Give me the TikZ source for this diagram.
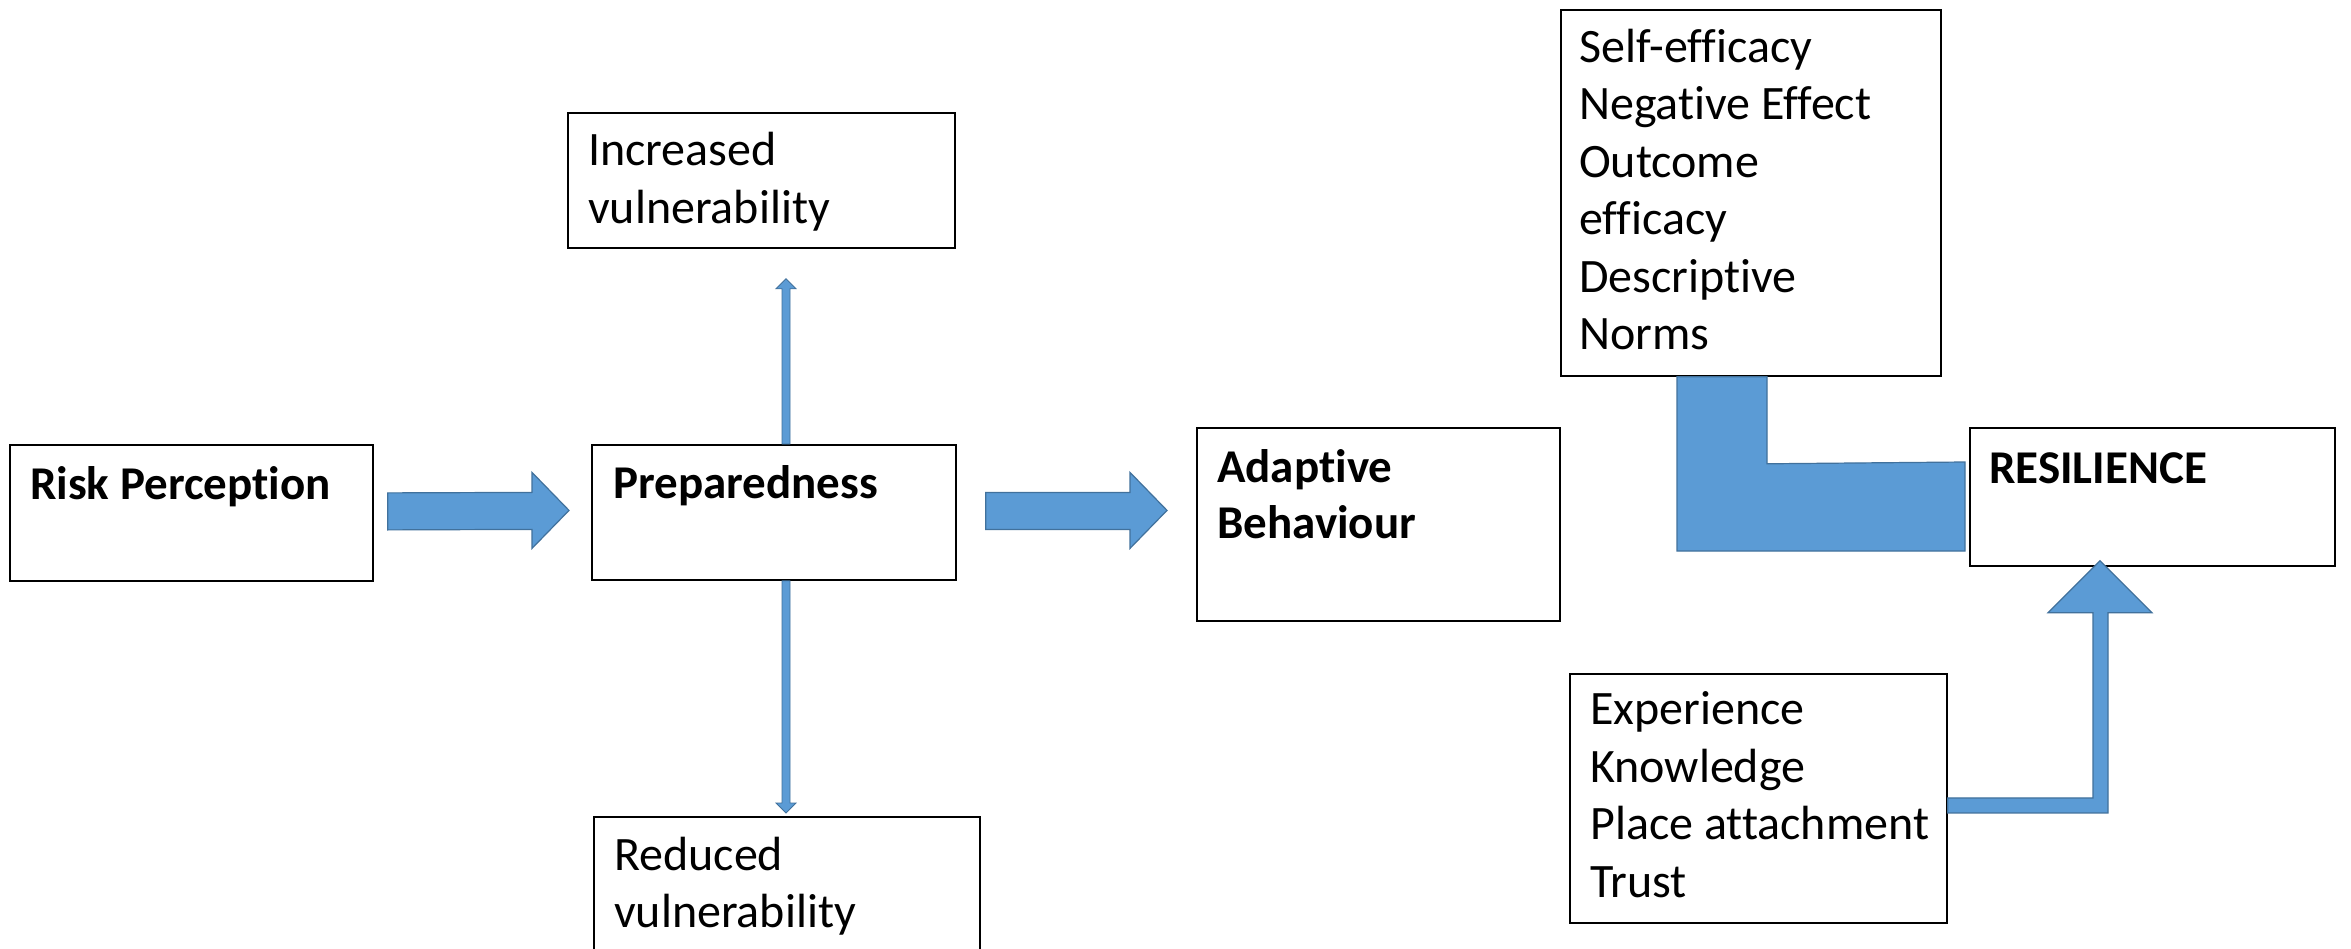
\documentclass[tikz,border=0pt]{standalone}
\usepackage{fontspec}
\setmainfont{Carlito}[Ligatures=NoCommon]
\usetikzlibrary{calc}
\definecolor{afill}{HTML}{5B9BD5}
\definecolor{aline}{HTML}{41719C}
\begin{document}
\begin{tikzpicture}[x=1pt,y=-1pt,
  box/.style={draw=black, line width=1.8pt, fill=white, inner sep=0pt, anchor=north west},
  txt/.style={font=\fontsize{48}{57.5}\selectfont, align=left, anchor=base west, inner sep=0pt},
  btxt/.style={font=\fontsize{47}{56}\selectfont\bfseries, align=left, anchor=base west, inner sep=0pt},
  arr/.style={fill=afill, draw=aline, line width=1.2pt, line join=miter}]
\clip (0,0) rectangle (2351,949);
\fill[white] (0,0) rectangle (2351,949);
% boxes
\node[box, minimum width=363pt, minimum height=136pt] (rp) at (9,444) {};
\node[box, minimum width=364pt, minimum height=135pt] (prep) at (591,444) {};
\node[box, minimum width=387pt, minimum height=135pt] (inc) at (567,112) {};
\node[box, minimum width=386pt, minimum height=150pt] (red) at (593,816) {};
\node[box, minimum width=363pt, minimum height=193pt] (adapt) at (1196,427) {};
\node[box, minimum width=380pt, minimum height=366pt] (self) at (1560,9) {};
\node[box, minimum width=365pt, minimum height=138pt] (res) at (1969,427) {};
\node[box, minimum width=377pt, minimum height=249pt] (exp) at (1569,673) {};
% texts (base anchor = baseline of the last line)
\node[btxt] (rpt) at (30,499) {Risk Perception};
\node[btxt] (prt) at (613,498) {Preparedness};
\node[txt] (inct) at (588,223.5) {Increased\\vulnerability};
\node[txt] (redt) at (614,927.5) {Reduced\\vulnerability};
\node[btxt] (adt) at (1217,538) {Adaptive\\Behaviour};
\node[txt] (set) at (1579,350) {Self-efficacy\\Negative Effect\\Outcome\\efficacy\\Descriptive\\Norms};
\node[btxt] (rest) at (1989,483) {RESILIENCE};
\node[txt] (expt) at (1590,897) {Experience\\Knowledge\\Place attachment\\Trust};
% arrow Risk Perception -> Preparedness
\coordinate (a1s) at ($(rp.east)+(14,0)$);
\coordinate (a1t) at ($(prep.west)+(-22,-2)$);
\draw[arr] ($(a1s)+(0,-20)$) -- ($(a1t)+(-37,-18)$) -- ($(a1t)+(-37,-38)$) -- (a1t)
  -- ($(a1t)+(-37,38)$) -- ($(a1t)+(-37,19)$) -- ($(a1s)+(0,17)$) -- cycle;
% arrow Preparedness -> Adaptive Behaviour
\coordinate (a2s) at ($(prep.east)+(29,0)$);
\coordinate (a2t) at ($(adapt.west |- prep.east)+(-29,-2)$);
\draw[arr] ($(a2s)+(0,-20)$) -- ($(a2t)+(-37,-18)$) -- ($(a2t)+(-37,-38)$) -- (a2t)
  -- ($(a2t)+(-37,38)$) -- ($(a2t)+(-37,19)$) -- ($(a2s)+(0,17)$) -- cycle;
% arrow Preparedness -> Increased vulnerability
\coordinate (u0) at ($(prep.north west)+(195,0)$);
\coordinate (u1) at ($(u0 |- inc.south)+(0,30)$);
\draw[arr, line width=0.8pt] ($(u0)+(-4,0)$) -- ($(u1)+(-4,10)$) -- ($(u1)+(-10,10)$) -- (u1)
  -- ($(u1)+(10,10)$) -- ($(u1)+(4,10)$) -- ($(u0)+(4,0)$) -- cycle;
% arrow Preparedness -> Reduced vulnerability
\coordinate (d0) at ($(prep.south west)+(195,0)$);
\coordinate (d1) at ($(d0 |- red.north)+(0,-3)$);
\draw[arr, line width=0.8pt] ($(d0)+(-4,0)$) -- ($(d1)+(-4,-10)$) -- ($(d1)+(-10,-10)$) -- (d1)
  -- ($(d1)+(10,-10)$) -- ($(d1)+(4,-10)$) -- ($(d0)+(4,0)$) -- cycle;
% elbow Self-efficacy -> RESILIENCE
\coordinate (e0) at ($(self.south west)+(117,0)$);
\draw[arr] (e0) -- ++(90,0) -- ++(0,87) -- ($(res.west |- 0,462)+(-4,0)$)
  -- ($(res.west |- 0,551)+(-4,0)$) -- (e0 |- 0,551) -- cycle;
% bent arrow Experience -> RESILIENCE
\coordinate (b1) at ($(res.south west)+(131,-6)$);
\draw[arr] ($(exp.east)+(0,-0.5)$) -- ($(b1 |- exp.east)+(-7,-0.5)$) -- ($(b1)+(-7,52)$)
  -- ($(b1)+(-52,52)$) -- (b1) -- ($(b1)+(52,52)$) -- ($(b1)+(8,52)$)
  -- ($(b1 |- exp.east)+(8,14.5)$) -- ($(exp.east)+(0,14.5)$) -- cycle;
\end{tikzpicture}
\end{document}
